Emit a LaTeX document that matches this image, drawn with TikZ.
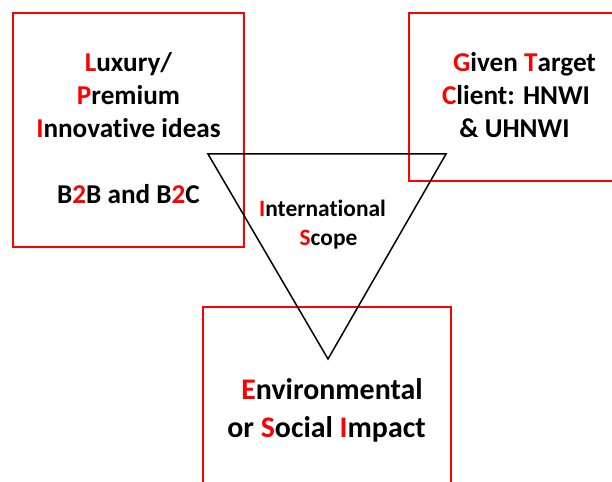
\documentclass[tikz,border=0pt]{standalone}
\usepackage{fontspec}
\setmainfont{Carlito}[Ligatures={NoCommon,TeX}]
\begin{document}
\begin{tikzpicture}[x=1bp,y=-1bp,
  redbox/.style={draw=red,line width=1.6bp},
  tri/.style={draw=black,line width=1.5bp,line join=miter},
  big/.style={font=\bfseries\fontsize{27.3}{33}\selectfont,anchor=base,inner sep=0pt},
  bigger/.style={font=\bfseries\fontsize{30}{36}\selectfont,anchor=base,inner sep=0pt},
  small/.style={font=\bfseries\fontsize{23.5}{28}\selectfont,anchor=base,inner sep=0pt}]
\clip (0,0) rectangle (612,482);
\fill[white] (0,0) rectangle (612,482);
% boxes
\draw[redbox] (13,13) rectangle (244,247);
\draw[redbox] (409,13) rectangle (640,181);
\draw[redbox] (203,307) rectangle (451,500);
% triangle
\coordinate (tl) at (208,154);
\coordinate (tr) at (446,154);
\coordinate (tb) at (328,359);
\draw[tri] (tl) -- (tr) -- (tb) -- cycle;
% box 1 text
\node[big] (l1) at (128.5,72) {\textcolor{red}{L}uxury/};
\node[big] (l2) at (128.5,105) {\textcolor{red}{P}remium};
\node[big] (l3) at (128.5,138) {\textcolor{red}{I}nnovative ideas};
\node[big] (l4) at (128.5,204) {B\textcolor{red}{2}B and B\textcolor{red}{2}C};
% box 2 text
\node[big] (r1) at (524.5,72) {\textcolor{red}{G}iven \textcolor{red}{T}arget};
\node[big] (r2) at (516,105) {\textcolor{red}{C}lient: HNWI};
\node[big] (r3) at (514.5,138) {\& UHNWI};
% triangle text
\node[small] (t1) at (322.5,217) {\textcolor{red}{I}nternational};
\node[small] (t2) at (328.5,245) {\textcolor{red}{S}cope};
% box 3 text
\node[bigger] (b1) at (332,399) {\textcolor{red}{E}nvironmental};
\node[bigger] (b2) at (326.5,437) {or \textcolor{red}{S}ocial \textcolor{red}{I}mpact};
\end{tikzpicture}
\end{document}
